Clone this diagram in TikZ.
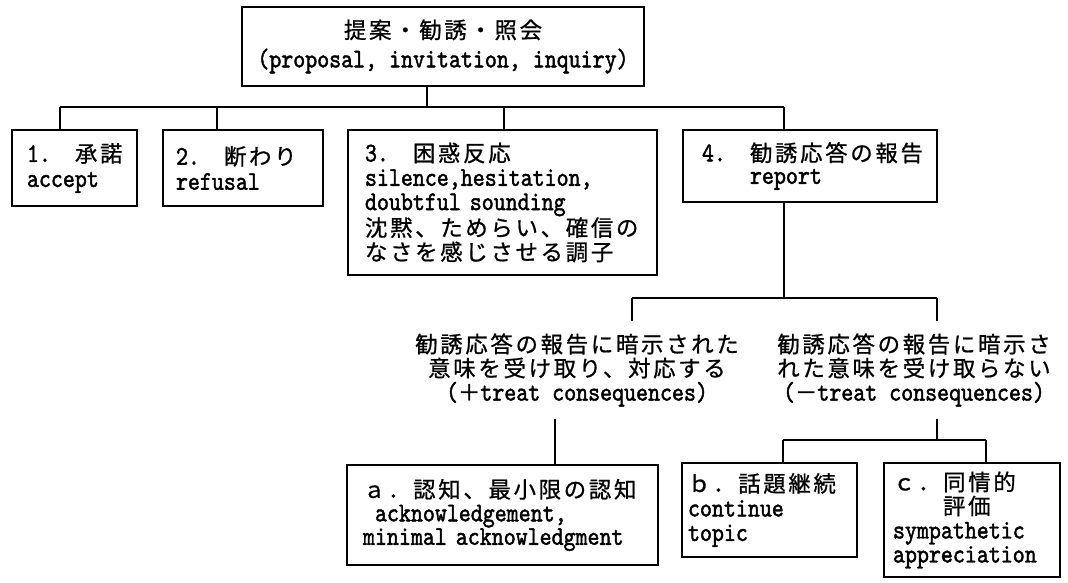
\documentclass[tikz,border=0pt]{standalone}
\usepackage{fontspec}
\newfontfamily\lat[FakeStretch=0.845,FakeBold=1.6]{lmmono10-regular.otf}
\newfontfamily\J[Scale=0.83,LetterSpace=12,FakeBold=0.8]{Noto Sans CJK JP}
\newcommand\hs{\hspace*{12pt}}
\newcommand\lne[1]{\mbox{#1}}
\newcommand\setfs[1]{\fontsize{27}{#1}\selectfont\lat}
\lineskiplimit=-40pt\relax
\lineskip=0pt\relax
\tikzset{
  fs/.style={font=\setfs{#1}},
  box/.style={draw, line width=1.2pt, inner ysep=0pt, align=left},
  lbl/.style={inner xsep=0pt, inner ysep=12pt, align=center},
  conn/.style={line width=1.2pt}
}
\begin{document}
\begin{tikzpicture}[x=1pt,y=-1pt]
\fill[white] (0,0) rectangle (1068,582);
\useasboundingbox (0,0) rectangle (1068,582);

% top
\node[draw, line width=1.2pt, inner ysep=0pt, align=center, fs=29,
      minimum width=402pt, minimum height=79pt] (top) at (443,46.5)
  {\lne{{\J 提案・勧誘・照会}}\\\lne{(proposal, invitation, inquiry)}};

% level 1 boxes
\node[box, fs=25, minimum height=76pt, inner xsep=15pt, text width=95pt] (n1) at (74.5,168)
  {\lne{1.\hs\hs{\J 承諾}}\\\lne{accept}};
\node[box, fs=25, minimum height=76pt, inner xsep=13pt, text width=134pt] (n2) at (243,168)
  {\lne{2.\hs\hs{\J 断わり}}\\\lne{refusal}};
\node[box, fs=24.3, minimum height=145pt, inner xsep=17pt, text width=275pt] (n3) at (502.5,202.5)
  {\lne{3.\hs\hs{\J 困惑反応}}\\\lne{silence,hesitation,}\\\lne{doubtful sounding}\\\lne{{\J 沈黙、ためらい、確信の}}\\\lne{{\J なさを感じさせる調子}}};
\node[box, fs=22.5, minimum height=72pt, inner xsep=19pt, text width=216pt] (n4) at (810,166)
  {\lne{4.\hs\hs{\J 勧誘応答の報告}}\\\lne{\hspace*{48pt}report}};

% labels
\node[lbl, fs=24] (tl) at (577,370)
  {\lne{{\J 勧誘応答の報告に暗示された}}\\\lne{{\J 意味を受け取り、対応する}}\\\lne{({\J ＋}treat consequences)}};
\node[lbl, fs=24] (tr) at (914,370)
  {\lne{{\J 勧誘応答の報告に暗示さ}}\\\lne{{\J れた意味を受け取らない}}\\\lne{({\J －}treat consequences)}};

% bottom boxes
\node[box, fs=23.5, minimum height=100pt, inner xsep=16pt, text width=279pt] (na) at (502.5,515)
  {\lne{{\J ａ．認知、最小限の認知}}\\\lne{\hs acknowledgement,}\\\lne{minimal acknowledgment}};
\node[box, fs=24.5, minimum height=94pt, inner xsep=6pt, text width=163pt] (nb) at (769.5,510)
  {\lne{{\J ｂ．話題継続}}\\\lne{continue}\\\lne{topic}};
\node[box, fs=24, minimum height=114pt, inner xsep=9pt, text width=158pt] (nc) at (972,520)
  {\lne{{\J ｃ．同情的}}\\\lne{\hspace*{50pt}{\J 評価}}\\\lne{sympathetic}\\\lne{appreciation}};

% junctions
\coordinate (c0) at (427,107);
\coordinate (v1) at (60,107);
\coordinate (v2) at (217,107);
\coordinate (v3) at (504,107);
\coordinate (v4) at (784,107);
\coordinate (w0) at (784,298);
\coordinate (wL) at (632,298);
\coordinate (wR) at (937,298);
\coordinate (u1) at (555,0);
\coordinate (b0) at (937,440);
\coordinate (b1) at (783,440);
\coordinate (b2) at (986,440);

\draw[conn] (top.south -| c0) -- (c0);
\draw[conn] (v1) -- (v4);
\draw[conn] (v1) -- (n1.north -| v1);
\draw[conn] (v2) -- (n2.north -| v2);
\draw[conn] (v3) -- (n3.north -| v3);
\draw[conn] (v4) -- (n4.north -| v4);
\draw[conn] (n4.south -| w0) -- (w0);
\draw[conn] (wL) -- (wR);
\draw[conn] (wL) -- (tl.north -| wL);
\draw[conn] (wR) -- (tr.north -| wR);
\draw[conn] (tl.south -| u1) -- (na.north -| u1);
\draw[conn] (tr.south -| b0) -- (b0);
\draw[conn] (b1) -- (b2);
\draw[conn] (b1) -- (nb.north -| b1);
\draw[conn] (b2) -- (nc.north -| b2);
\end{tikzpicture}
\end{document}
